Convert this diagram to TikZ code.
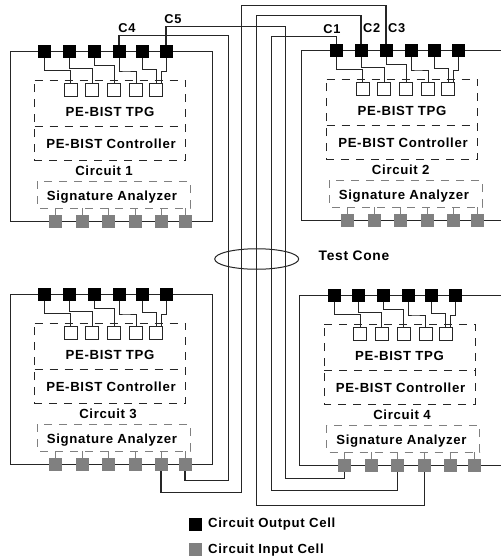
\documentclass[tikz,border=0pt]{standalone}
\usepackage{fontspec}
\setmainfont{Liberation Sans}[LetterSpace=5]
\usetikzlibrary{shapes.geometric}
\definecolor{cellgrey}{gray}{0.5}
\definecolor{wirecol}{gray}{0.15}
\tikzset{
  wire/.style={draw=wirecol,line width=1.2pt},
  thinwire/.style={draw=wirecol,line width=1pt},
  outcell/.style={draw=none,fill=black,minimum size=13pt,inner sep=0pt,outer sep=0pt},
  incell/.style={draw=none,fill=cellgrey,minimum size=13pt,inner sep=0pt,outer sep=0pt},
  tinybox/.style={draw=wirecol,line width=1pt,fill=white,minimum size=13pt,inner sep=0pt,outer sep=0pt},
  dashbox/.style={draw=wirecol,line width=1pt,dash pattern=on 8pt off 7pt},
  sigbox/.style={draw=cellgrey,line width=0.9pt,dash pattern=on 8pt off 7pt},
  stub/.style={draw=cellgrey,line width=1pt},
  lbl/.style={font=\bfseries\fontsize{13.2pt}{15pt}\selectfont,text=black,inner sep=0pt},
  wirelbl/.style={font=\bfseries\fontsize{12.8pt}{14pt}\selectfont,text=black,inner sep=0pt}
}
\newcommand{\cktbody}[5]{%
  \begin{scope}[shift={(#2,#3)}]
    \foreach \n/\x in {1/44.7,2/69,3/94,4/119,5/142,6/166}
      \node[outcell] (#1o\n) at (\x,51) {};
    \foreach \n/\x in {1/70.5,2/92,3/114,4/136,5/156}
      \node[tinybox] (#1b\n) at (\x,90) {};
    \foreach \n/\x in {1/55,2/82,3/108,4/135,5/161,6/185}
      \node[incell] (#1i\n) at (\x,221) {};
    \coordinate (#1m1) at (50,70.5);
    \coordinate (#1m2) at (75,68.5);
    \coordinate (#1m3) at (100,65.5);
    \coordinate (#1m4) at (125,71);
    \coordinate (#1m5) at (148,69.5);
    \coordinate (#1m6) at (162,71.5);
    \draw[thinwire] (#1o1.south) |- (#1m1) -| (#1b1.north);
    \draw[thinwire] (#1o2.south) |- (#1m2) -| (#1b2.north);
    \draw[thinwire] (#1o3.south) |- (#1m3) -| (#1b3.north);
    \draw[thinwire] (#1o4.south) |- (#1m4) -| (#1b4.north);
    \draw[thinwire] (#1o5.south) |- (#1m5) -| (#1b5.north);
    \draw[thinwire] (#1o6.south) |- (#1m6) -| ([xshift=5pt]#1b5.north);
    \draw[dashbox] (34.7,80) -- (185.7,80) -- (185.7,160) -- (34.7,160) -- cycle;
    \draw[dashbox] (34.7,126) -- (185.7,126);
    \node[lbl] (#1tpg) at (110,112) {PE-BIST TPG};
    \node[lbl] (#1ctl) at (111,144) {PE-BIST Controller};
    \node[lbl] (#1name) at (#5,171) {#4};
    \draw[sigbox] (37,181) rectangle (190,208);
    \node[lbl] (#1sig) at (112,197) {Signature Analyzer};
    \foreach \n in {1,...,6} \draw[stub] (#1i\n.north) -- ++(0,-6.5);
  \end{scope}}
\begin{document}
\begin{tikzpicture}[x=1pt,y=-1pt]
  \useasboundingbox (0,0) rectangle (501,558);
  \fill[white] (0,0) rectangle (501,558);
  % outlines
  \draw[wire] (10.5,51.5) rectangle (212.5,221.5);
  \draw[wire] (10.5,294.5) rectangle (212.5,464.5);
  \draw[wire] (501,50.5) -- (301.5,50.5) -- (301.5,220.5) -- (501,220.5);
  \draw[wire] (501,295.5) -- (299.5,295.5) -- (299.5,465.5) -- (501,465.5);
  % blocks
  \cktbody{a}{0}{0}{Circuit 1}{104}
  \cktbody{b}{292}{-1}{Circuit 2}{108.7}
  \cktbody{c}{0}{243}{Circuit 3}{108}
  \cktbody{d}{289.5}{244}{Circuit 4}{112.5}
  % long wires
  \coordinate (w4a) at (228.5,35.5);
  \coordinate (w4b) at (228.5,480.5);
  \draw[wire] (ao4.north) |- (w4a) -- (w4b) -| (ci6.south);
  \coordinate (w5a) at (285.5,26.5);
  \coordinate (w5b) at (285.5,478.5);
  \draw[wire] (ao6.north) |- (w5a) -- (w5b) -| (di1.south);
  \coordinate (w3a) at (241.5,5.5);
  \coordinate (w3b) at (241.5,492.5);
  \draw[wire] (bo3.north) |- (w3a) -- (w3b) -| (ci5.south);
  \coordinate (w2a) at (256.5,15.5);
  \coordinate (w2b) at (256.5,505.5);
  \draw[wire] (bo2.north) |- (w2a) -- (w2b) -| (di4.south);
  \coordinate (w1a) at (271.5,36.5);
  \coordinate (w1b) at (271.5,490.5);
  \draw[wire] (bo1.north) |- (w1a) -- (w1b) -| (di3.south);
  % test cone
  \node[draw=wirecol,line width=1pt,ellipse,minimum width=84pt,minimum height=20.5pt,inner sep=0pt] (cone) at (256.7,259) {};
  \node[lbl,font=\bfseries\fontsize{13.8pt}{15pt}\selectfont] (conelbl) at (354,256) {Test Cone};
  % wire labels
  \node[wirelbl] (l4) at (127,28) {C4};
  \node[wirelbl] (l5) at (173,19) {C5};
  \node[wirelbl] (l1) at (332,29) {C1};
  \node[wirelbl] (l2) at (371.7,28.5) {C2};
  \node[wirelbl] (l3) at (396.7,28.5) {C3};
  % legend
  \node[outcell] (k1) at (195,524) {};
  \node[incell] (k2) at (195,549) {};
  \node[lbl,anchor=west] (k1t) at (208,524) {Circuit Output Cell};
  \node[lbl,anchor=west] (k2t) at (208,550) {Circuit Input Cell};
\end{tikzpicture}
\end{document}
